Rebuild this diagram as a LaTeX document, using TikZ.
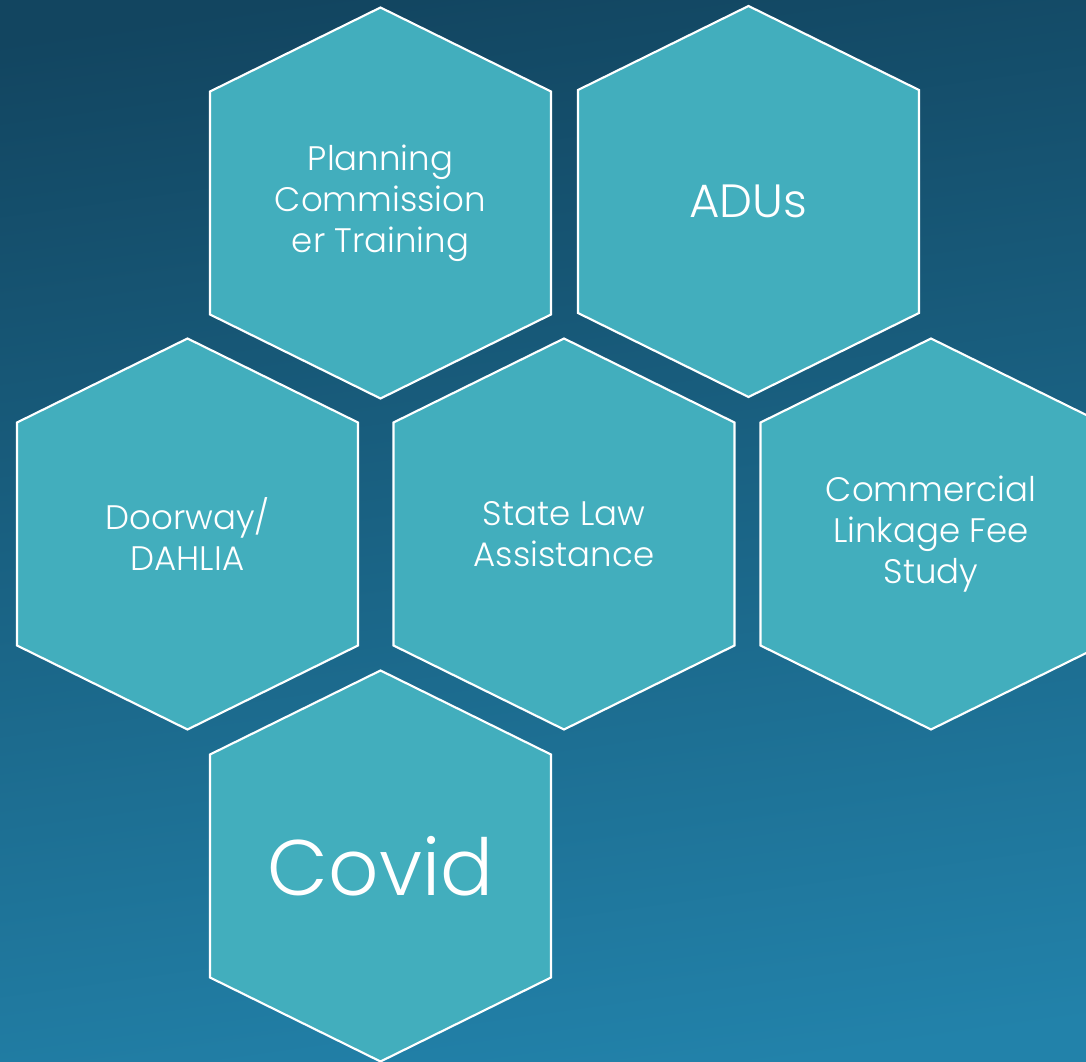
\documentclass[tikz,border=0pt]{standalone}
\usepackage{fontspec}
\setmainfont{Poppins}[UprightFont={* Light}]
\definecolor{bgtop}{HTML}{124560}
\definecolor{bgmid}{HTML}{165270}
\definecolor{bgbot}{HTML}{2282AA}
\definecolor{hexfill}{HTML}{42AEBD}
\tikzset{
  hexshape/.style={fill=hexfill, draw=white, line width=1.6pt, line join=miter},
  hexlabel/.style={text=white, align=center, font=\fontsize{25.5}{30.75}\selectfont},
}
\newcommand\hexcell[5][]{%
  \draw[hexshape] (#3,#4-195.5) -- (#3+170.5,#4-111.5) -- (#3+170.5,#4+111.5)
     -- (#3,#4+195.5) -- (#3-170.5,#4+111.5) -- (#3-170.5,#4-111.5) -- cycle;
  \node[hexlabel,#1] (#2) at (#3,#4) {#5};}
\begin{document}
\begin{tikzpicture}[x=0.75pt,y=-0.75pt]
\useasboundingbox (0,0) rectangle (1086,1062);
\clip (0,0) rectangle (1086,1062);
\shade[top color=bgtop, middle color=bgmid, bottom color=bgbot, shading angle=8] (-30,-30) rectangle (1116,1092);
\hexcell{plan}{380.5}{203}{Planning\\Commission\\er Training}
\hexcell[font=\fontsize{35}{40}\selectfont]{adu}{748.5}{201.5}{ADUs}
\hexcell{door}{187.5}{534}{Doorway/\\DAHLIA}
\hexcell{state}{564}{534}{State Law\\Assistance}
\hexcell{comm}{931}{534}{Commercial\\Linkage Fee\\Study}
\hexcell[font=\fontsize{59}{64}\selectfont]{covid}{380.5}{866}{Covid}
\end{tikzpicture}
\end{document}
